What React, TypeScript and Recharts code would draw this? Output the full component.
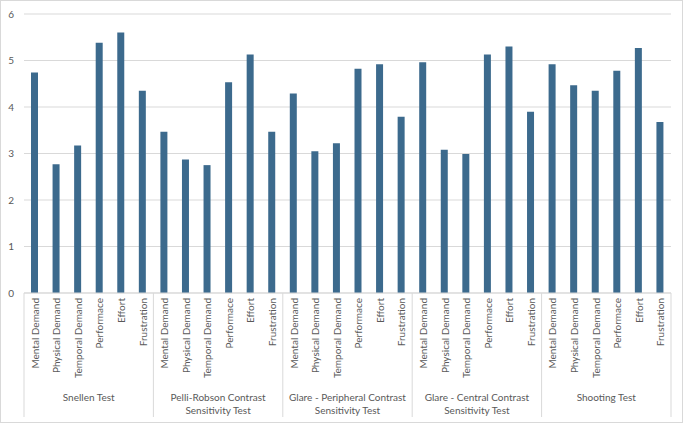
import React from 'react';
import { BarChart, Bar, XAxis, YAxis, CartesianGrid } from 'recharts';

const categories = ['Mental Demand', 'Physical Demand', 'Temporal Demand', 'Performace', 'Effort', 'Frustration'];

const groupLabels = [
  ['Snellen Test'],
  ['Pelli-Robson Contrast', 'Sensitivity Test'],
  ['Glare - Peripheral Contrast', 'Sensitivity Test'],
  ['Glare - Central Contrast', 'Sensitivity Test'],
  ['Shooting Test'],
];

const snellen = [4.74, 2.77, 3.17, 5.38, 5.6, 4.35];
const pelliRobson = [3.47, 2.87, 2.75, 4.53, 5.13, 3.47];
const glarePeripheral = [4.29, 3.05, 3.22, 4.82, 4.92, 3.79];
const glareCentral = [4.96, 3.08, 2.99, 5.13, 5.3, 3.9];
const shooting = [4.92, 4.47, 4.35, 4.78, 5.27, 3.68];

const yTicks = [0, 1, 2, 3, 4, 5, 6];

const groupValues = [snellen, pelliRobson, glarePeripheral, glareCentral, shooting];

const data = groupValues.flatMap((vals, g) =>
  vals.map((v, i) => ({ key: g * 6 + i, label: categories[i], group: g, value: v }))
);

const W = 685;
const H = 424;
const LEFT = 24;
const RIGHT = 14;
const band = (W - LEFT - RIGHT) / data.length;
const gray = '#d9d9d9';
const textColor = '#595959';

function CategoryTick(props: any) {
  const { x, y, payload } = props;
  const idx = payload.index;
  const item = data[idx];
  const pos = idx % 6;
  return (
    <g>
      <text
        x={x}
        y={y + 5}
        transform={`rotate(-90, ${x}, ${y + 5})`}
        textAnchor="end"
        dominantBaseline="central"
        fontSize={10}
        fill={textColor}
      >
        {item.label}
      </text>
      {pos === 0 && <line x1={x - band / 2} x2={x - band / 2} y1={y} y2={y + 124} stroke={gray} />}
      {idx === data.length - 1 && <line x1={x + band / 2} x2={x + band / 2} y1={y} y2={y + 124} stroke={gray} />}
      {pos === 2 &&
        groupLabels[item.group].map((line, li) => (
          <text
            key={li}
            x={x + band / 2}
            y={y + 104 + li * 13}
            textAnchor="middle"
            dominantBaseline="central"
            fontSize={10}
            fill={textColor}
          >
            {line}
          </text>
        ))}
    </g>
  );
}

export default function App() {
  return (
    <div style={{ position: 'absolute', left: 0, top: 0, width: W, height: H, background: '#fff', fontFamily: 'Lato' }}>
      <div
        style={{
          position: 'absolute',
          left: 0,
          top: 0,
          width: 683,
          height: 423,
          border: `1px solid ${gray}`,
          boxSizing: 'border-box',
        }}
      />
      <div style={{ position: 'absolute', left: 0, top: 0 }}>
        <BarChart width={W} height={H} data={data} margin={{ top: 14, right: RIGHT, left: 0, bottom: 0 }} barCategoryGap={0}>
          <CartesianGrid vertical={false} stroke={gray} />
          <XAxis
            dataKey="key"
            interval={0}
            height={131}
            tickLine={false}
            tickSize={0}
            tickMargin={0}
            axisLine={{ stroke: gray }}
            tick={<CategoryTick />}
          />
          <YAxis
            width={LEFT}
            domain={[0, 6]}
            ticks={yTicks}
            axisLine={false}
            tickLine={false}
            tickSize={0}
            tickMargin={10}
            tick={{ fontSize: 10, fill: textColor }}
          />
          <Bar dataKey="value" fill="#3c6a8d" barSize={7} isAnimationActive={false} />
        </BarChart>
      </div>
    </div>
  );
}
